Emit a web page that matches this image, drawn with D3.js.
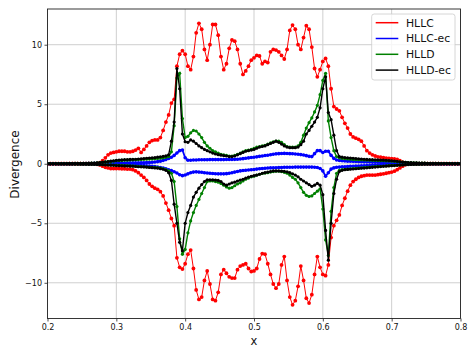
<!DOCTYPE html>
<html>
<head>
<meta charset="utf-8">
<script src="https://cdn.jsdelivr.net/npm/d3@7"></script>
<style>
  html, body { margin: 0; padding: 0; background: #fff; }
  svg { display: block; font-family: "DejaVu Sans", sans-serif; }
</style>
</head>
<body>
<svg id="chart" width="476" height="357"></svg>
<script>
// sample grid: x = X_START + i * X_STEP, i = 0..150 (0.2 .. 0.8)
const X_START = 0.2;
const X_STEP = 0.004;

const xTicks = [0.2, 0.3, 0.4, 0.5, 0.6, 0.7, 0.8];
const yTicks = [-10, -5, 0, 5, 10];
const seriesNames = ['HLLC', 'HLLC-ec', 'HLLD', 'HLLD-ec'];

// each row = 0.1 in x (25 samples)
const hllcUp = [
  0, 0, 0, 0, 0, 0, 0, 0, 0, 0, 0, 0, 0, 0, 0, 0, 0, 0, 0.02, 0.1, 0.25, 0.5, 0.75, 0.9, 0.95,
  1.0, 1.05, 1.05, 1.05, 1.0, 1.0, 1.05, 1.15, 1.3, 0.95, 1.2, 1.5, 1.8, 1.95, 2.0, 2.0, 2.2, 2.8, 3.5, 4.1, 5.1, 5.4, 8.2, 9.2, 9.5,
  9.2, 8.2, 7.9, 9.0, 11.0, 11.8, 11.3, 9.6, 8.7, 10.0, 11.7, 11.7, 10.8, 9.0, 7.9, 8.4, 9.7, 10.4, 10.3, 9.6, 8.4, 7.5, 7.8, 8.2, 8.7,
  8.9, 9.1, 9.05, 8.4, 8.6, 8.5, 9.4, 9.6, 9.55, 9.4, 9.1, 8.8, 9.6, 11.2, 11.65, 11.3, 10.0, 9.6, 10.6, 11.6, 11.3, 9.8, 8.0, 7.3, 7.9,
  8.6, 8.85, 8.2, 6.3, 4.8, 4.6, 4.45, 3.9, 3.4, 3.0, 2.5, 2.25, 2.15, 2.05, 1.9, 1.5, 1.1, 0.9, 0.75, 0.65, 0.58, 0.55, 0.52, 0.48, 0.45,
  0.42, 0.4, 0.36, 0.25, 0.14, 0.05, 0, 0, 0, 0, 0, 0, 0, 0, 0, 0, 0, 0, 0, 0, 0, 0, 0, 0, 0,
  0
];
const hllcLo = [
  0, 0, 0, 0, 0, 0, 0, 0, 0, 0, 0, 0, 0, 0, 0, 0, 0, 0, -0.05, -0.1, -0.2, -0.3, -0.35, -0.4, -0.4,
  -0.4, -0.4, -0.42, -0.42, -0.45, -0.45, -0.5, -0.6, -0.75, -0.95, -1.15, -1.4, -1.7, -1.9, -2.05, -2.15, -2.35, -2.7, -3.3, -3.9, -4.6, -5.2, -7.9, -8.7, -8.85,
  -8.4, -7.6, -7.25, -8.8, -10.6, -11.4, -11.2, -9.8, -9.0, -10.1, -11.4, -11.5, -10.8, -9.3, -8.9, -9.2, -9.5, -9.6, -9.6, -8.9, -8.6, -8.5, -8.4, -8.8, -9.05,
  -9.0, -8.8, -8.0, -7.55, -7.6, -8.4, -9.3, -10.1, -10.45, -10.1, -8.5, -7.8, -9.8, -11.2, -11.85, -11.5, -10.3, -8.6, -9.8, -11.3, -11.7, -11.0, -9.3, -7.8, -8.7,
  -9.3, -9.4, -8.5, -6.2, -5.2, -4.75, -4.3, -3.5, -2.9, -2.3, -1.8, -1.5, -1.3, -1.15, -1.05, -1.0, -0.95, -0.95, -0.95, -0.95, -0.92, -0.88, -0.85, -0.8, -0.75,
  -0.7, -0.62, -0.5, -0.35, -0.2, -0.08, 0, 0, 0, 0, 0, 0, 0, 0, 0, 0, 0, 0, 0, 0, 0, 0, 0, 0, 0,
  0
];
const hllcEcUp = [
  0, 0, 0, 0, 0, 0, 0, 0, 0, 0, 0, 0, 0, 0.01, 0.01, 0.02, 0.02, 0.03, 0.03, 0.04, 0.04, 0.05, 0.05, 0.05, 0.05,
  0.05, 0.06, 0.06, 0.06, 0.07, 0.07, 0.07, 0.08, 0.08, 0.09, 0.09, 0.1, 0.1, 0.12, 0.15, 0.18, 0.22, 0.28, 0.35, 0.45, 0.55, 0.7, 0.9, 1.1, 1.15,
  0.5, 0.3, 0.3, 0.31, 0.32, 0.33, 0.33, 0.34, 0.34, 0.35, 0.35, 0.35, 0.35, 0.35, 0.35, 0.36, 0.36, 0.36, 0.37, 0.38, 0.4, 0.43, 0.46, 0.49, 0.52,
  0.55, 0.58, 0.62, 0.65, 0.69, 0.72, 0.76, 0.8, 0.83, 0.85, 0.86, 0.87, 0.86, 0.85, 0.84, 0.82, 0.8, 0.77, 0.73, 0.68, 0.62, 0.6, 0.85, 1.1, 1.1,
  0.95, 1.05, 1.05, 0.7, 0.45, 0.32, 0.28, 0.25, 0.23, 0.22, 0.21, 0.2, 0.19, 0.18, 0.17, 0.16, 0.16, 0.15, 0.14, 0.13, 0.12, 0.11, 0.1, 0.09, 0.08,
  0.08, 0.07, 0.06, 0.05, 0.04, 0.04, 0.03, 0.02, 0.02, 0.01, 0.01, 0, 0, 0, 0, 0, 0, 0, 0, 0, 0, 0, 0, 0, 0,
  0
];
const hllcEcLo = [
  0, 0, 0, 0, 0, 0, 0, 0, 0, 0, 0, 0, 0, -0.01, -0.01, -0.02, -0.02, -0.03, -0.03, -0.04, -0.04, -0.05, -0.05, -0.05, -0.05,
  -0.06, -0.07, -0.08, -0.09, -0.1, -0.11, -0.12, -0.13, -0.14, -0.15, -0.16, -0.18, -0.2, -0.22, -0.24, -0.27, -0.31, -0.36, -0.42, -0.5, -0.58, -0.67, -0.78, -0.92, -1.0,
  -0.95, -0.85, -0.75, -0.7, -0.68, -0.7, -0.72, -0.75, -0.78, -0.8, -0.82, -0.84, -0.85, -0.85, -0.85, -0.83, -0.8, -0.75, -0.7, -0.65, -0.6, -0.57, -0.55, -0.52, -0.5,
  -0.48, -0.45, -0.42, -0.4, -0.38, -0.36, -0.35, -0.34, -0.33, -0.32, -0.31, -0.3, -0.3, -0.29, -0.29, -0.28, -0.28, -0.28, -0.28, -0.28, -0.28, -0.28, -0.29, -0.31, -0.4,
  -0.6, -1.05, -0.75, -0.45, -0.35, -0.3, -0.28, -0.26, -0.25, -0.24, -0.22, -0.21, -0.2, -0.19, -0.18, -0.17, -0.16, -0.15, -0.14, -0.13, -0.12, -0.11, -0.1, -0.09, -0.08,
  -0.07, -0.07, -0.06, -0.05, -0.04, -0.04, -0.03, -0.02, -0.02, -0.01, -0.01, 0, 0, 0, 0, 0, 0, 0, 0, 0, 0, 0, 0, 0, 0,
  0
];
const hlldUp = [
  0.01, 0.01, 0.01, 0.01, 0.01, 0.02, 0.02, 0.02, 0.02, 0.02, 0.03, 0.03, 0.03, 0.03, 0.04, 0.04, 0.05, 0.05, 0.07, 0.1, 0.12, 0.15, 0.18, 0.2, 0.22,
  0.25, 0.27, 0.28, 0.3, 0.3, 0.32, 0.33, 0.34, 0.35, 0.36, 0.37, 0.38, 0.39, 0.4, 0.42, 0.44, 0.46, 0.5, 0.55, 0.6, 1.0, 3.2, 7.2, 7.6, 3.8,
  2.2, 2.3, 2.6, 2.8, 2.75, 2.5, 2.2, 1.8, 1.5, 1.3, 1.1, 1.0, 0.9, 0.8, 0.75, 0.7, 0.65, 0.65, 0.7, 0.8, 0.9, 1.0, 1.1, 1.15, 1.2,
  1.3, 1.4, 1.45, 1.5, 1.55, 1.65, 1.75, 1.85, 1.9, 1.9, 1.8, 1.6, 1.45, 1.4, 1.4, 1.4, 1.5, 1.8, 2.4, 3.0, 3.45, 3.85, 4.35, 4.9, 5.8,
  7.0, 7.6, 3.6, 2.2, 1.1, 0.6, 0.5, 0.45, 0.42, 0.4, 0.38, 0.36, 0.35, 0.34, 0.33, 0.32, 0.31, 0.3, 0.29, 0.28, 0.27, 0.26, 0.25, 0.24, 0.23,
  0.22, 0.2, 0.18, 0.16, 0.14, 0.12, 0.1, 0.09, 0.08, 0.07, 0.06, 0.05, 0.05, 0.04, 0.04, 0.03, 0.03, 0.03, 0.02, 0.02, 0.02, 0.02, 0.01, 0.01, 0.01,
  0.01
];
const hlldLo = [
  -0.01, -0.01, -0.01, -0.01, -0.01, -0.02, -0.02, -0.02, -0.02, -0.02, -0.03, -0.03, -0.03, -0.03, -0.03, -0.04, -0.04, -0.04, -0.05, -0.06, -0.07, -0.08, -0.09, -0.1, -0.11,
  -0.12, -0.13, -0.14, -0.15, -0.16, -0.17, -0.18, -0.2, -0.21, -0.23, -0.25, -0.26, -0.28, -0.3, -0.31, -0.32, -0.36, -0.42, -0.5, -0.6, -0.8, -1.5, -3.6, -6.3, -7.6,
  -7.2, -5.8, -4.8, -4.1, -3.5, -3.0, -2.5, -2.0, -1.5, -1.45, -1.45, -1.5, -1.55, -1.65, -1.8, -1.95, -2.05, -2.0, -1.85, -1.7, -1.6, -1.45, -1.3, -1.2, -1.1,
  -1.05, -0.95, -0.88, -0.82, -0.78, -0.75, -0.7, -0.66, -0.63, -0.63, -0.66, -0.72, -0.8, -0.95, -1.15, -1.3, -1.6, -2.0, -2.4, -2.65, -2.75, -2.7, -2.5, -2.3, -2.1,
  -3.8, -6.4, -7.7, -4.0, -2.0, -0.8, -0.55, -0.5, -0.47, -0.45, -0.42, -0.4, -0.38, -0.36, -0.34, -0.32, -0.3, -0.28, -0.26, -0.24, -0.22, -0.21, -0.19, -0.17, -0.15,
  -0.14, -0.13, -0.12, -0.1, -0.09, -0.07, -0.06, -0.05, -0.05, -0.04, -0.04, -0.03, -0.03, -0.03, -0.02, -0.02, -0.02, -0.02, -0.01, -0.01, -0.01, -0.01, -0.01, -0.01, -0.01,
  -0.01
];
const hlldEcUp = [
  0.01, 0.01, 0.01, 0.01, 0.02, 0.02, 0.02, 0.02, 0.03, 0.03, 0.03, 0.03, 0.04, 0.04, 0.04, 0.05, 0.05, 0.06, 0.08, 0.1, 0.13, 0.16, 0.19, 0.22, 0.25,
  0.28, 0.3, 0.32, 0.34, 0.35, 0.36, 0.37, 0.38, 0.4, 0.42, 0.44, 0.46, 0.48, 0.5, 0.52, 0.55, 0.58, 0.62, 0.66, 0.75, 1.9, 3.5, 8.0, 6.3, 2.5,
  1.85, 1.8, 2.0, 1.9, 1.7, 1.5, 1.35, 1.2, 1.1, 1.0, 0.9, 0.82, 0.76, 0.72, 0.68, 0.65, 0.6, 0.6, 0.65, 0.75, 0.85, 0.95, 1.05, 1.1, 1.15,
  1.2, 1.3, 1.4, 1.45, 1.5, 1.6, 1.7, 1.8, 1.9, 1.8, 1.65, 1.5, 1.4, 1.35, 1.35, 1.35, 1.4, 1.6, 1.9, 2.5, 2.8, 3.15, 3.5, 3.9, 4.7,
  6.3, 7.3, 4.3, 3.7, 2.4, 1.1, 0.6, 0.55, 0.52, 0.5, 0.48, 0.46, 0.44, 0.42, 0.4, 0.38, 0.36, 0.35, 0.34, 0.33, 0.32, 0.31, 0.3, 0.29, 0.27,
  0.25, 0.23, 0.2, 0.17, 0.14, 0.12, 0.1, 0.09, 0.08, 0.07, 0.06, 0.05, 0.05, 0.04, 0.04, 0.03, 0.03, 0.03, 0.02, 0.02, 0.02, 0.02, 0.01, 0.01, 0.01,
  0.01
];
const hlldEcLo = [
  -0.01, -0.01, -0.01, -0.01, -0.02, -0.02, -0.02, -0.02, -0.03, -0.03, -0.03, -0.03, -0.04, -0.04, -0.04, -0.05, -0.05, -0.05, -0.06, -0.07, -0.08, -0.09, -0.1, -0.12, -0.13,
  -0.15, -0.16, -0.17, -0.18, -0.19, -0.2, -0.21, -0.23, -0.25, -0.26, -0.27, -0.29, -0.31, -0.33, -0.35, -0.37, -0.41, -0.46, -0.55, -0.75, -1.4, -3.4, -5.0, -6.6, -7.3,
  -5.0, -4.1, -3.5, -2.8, -2.4, -2.05, -1.75, -1.5, -1.35, -1.35, -1.35, -1.37, -1.4, -1.5, -1.7, -1.8, -1.7, -1.6, -1.55, -1.45, -1.37, -1.3, -1.2, -1.12, -1.05,
  -1.0, -0.95, -0.88, -0.8, -0.75, -0.7, -0.65, -0.6, -0.6, -0.6, -0.62, -0.64, -0.68, -0.75, -0.85, -0.95, -1.1, -1.3, -1.45, -1.6, -1.75, -1.9, -1.8, -1.65, -1.8,
  -2.6, -5.6, -8.1, -5.0, -2.5, -1.3, -0.65, -0.55, -0.5, -0.48, -0.46, -0.44, -0.42, -0.4, -0.38, -0.36, -0.34, -0.32, -0.3, -0.28, -0.26, -0.24, -0.22, -0.2, -0.18,
  -0.16, -0.15, -0.13, -0.11, -0.1, -0.08, -0.07, -0.06, -0.05, -0.05, -0.04, -0.04, -0.03, -0.03, -0.03, -0.02, -0.02, -0.02, -0.02, -0.01, -0.01, -0.01, -0.01, -0.01, -0.01,
  -0.01
];

const series = [
  { name: seriesNames[0], color: '#ff0000', up: hllcUp, lo: hllcLo, lw: 1, r: 1.9 },
  { name: seriesNames[1], color: '#0000ff', up: hllcEcUp, lo: hllcEcLo, lw: 1.8, r: 1.8 },
  { name: seriesNames[2], color: '#008000', up: hlldUp, lo: hlldLo, lw: 1.4, r: 1.6 },
  { name: seriesNames[3], color: '#000000', up: hlldEcUp, lo: hlldEcLo, lw: 1.4, r: 1.6 },
];

const margin = { left: 47.5, top: 9, right: 460.5, bottom: 318.5 };
const svg = d3.select('#chart');

const x = d3.scaleLinear().domain([0.2, 0.8]).range([margin.left, margin.right]);
const y = d3.scaleLinear().domain([-13, 13]).range([margin.bottom, margin.top]);

svg.append('defs').append('clipPath').attr('id', 'plotClip')
  .append('rect')
  .attr('x', margin.left).attr('y', margin.top)
  .attr('width', margin.right - margin.left)
  .attr('height', margin.bottom - margin.top);

// grid
const grid = svg.append('g').attr('stroke', '#cfcfcf').attr('stroke-width', 1);
xTicks.forEach(t => {
  grid.append('line').attr('x1', x(t)).attr('x2', x(t))
    .attr('y1', margin.top).attr('y2', margin.bottom);
});
yTicks.forEach(t => {
  grid.append('line').attr('x1', margin.left).attr('x2', margin.right)
    .attr('y1', y(t)).attr('y2', y(t));
});

// data
const plot = svg.append('g').attr('clip-path', 'url(#plotClip)');
const xAt = i => X_START + i * X_STEP;
const line = d3.line().x((d, i) => x(xAt(i))).y(d => y(d));

series.forEach(s => {
  const g = plot.append('g');
  [s.up, s.lo].forEach(vals => {
    g.append('path')
      .attr('d', line(vals))
      .attr('fill', 'none')
      .attr('stroke', s.color)
      .attr('stroke-width', s.lw);
    g.selectAll(null).data(vals).enter()
      .append('circle')
      .attr('cx', (d, i) => x(xAt(i)))
      .attr('cy', d => y(d))
      .attr('r', s.r)
      .attr('fill', s.color);
  });
});

// spines
svg.append('rect')
  .attr('x', margin.left).attr('y', margin.top)
  .attr('width', margin.right - margin.left)
  .attr('height', margin.bottom - margin.top)
  .attr('fill', 'none').attr('stroke', '#222').attr('stroke-width', 0.9);

// axes
const xAxis = d3.axisBottom(x).tickValues(xTicks).tickFormat(d3.format('.1f'))
  .tickSize(3).tickPadding(3);
const yAxis = d3.axisLeft(y).tickValues(yTicks).tickFormat(d3.format('d'))
  .tickSize(3).tickPadding(2.5);

const gx = svg.append('g').attr('transform', `translate(0,${margin.bottom})`).call(xAxis);
const gy = svg.append('g').attr('transform', `translate(${margin.left},0)`).call(yAxis);
[gx, gy].forEach(g => {
  g.select('.domain').remove();
  g.selectAll('line').attr('stroke', '#222').attr('stroke-width', 0.8);
  g.selectAll('text').attr('fill', '#111').style('font-size', '8px')
    .style('font-family', '"DejaVu Sans", sans-serif');
});

// axis labels
svg.append('text')
  .attr('x', (margin.left + margin.right) / 2).attr('y', 345)
  .attr('text-anchor', 'middle').style('font-size', '11.5px').attr('fill', '#111')
  .text('x');
svg.append('text')
  .attr('transform', 'translate(18.8,164.5) rotate(-90)')
  .attr('text-anchor', 'middle').style('font-size', '12px').attr('fill', '#111')
  .text('Divergence');

// legend
const legend = svg.append('g');
legend.append('rect')
  .attr('x', 371.7).attr('y', 14).attr('width', 83.3).attr('height', 66)
  .attr('rx', 2.5)
  .attr('fill', '#fff').attr('fill-opacity', 0.8)
  .attr('stroke', '#cccccc').attr('stroke-width', 0.8);
series.forEach((s, i) => {
  const cy = 22.7 + i * 15.8;
  legend.append('line')
    .attr('x1', 375.7).attr('x2', 398.3).attr('y1', cy).attr('y2', cy)
    .attr('stroke', s.color).attr('stroke-width', 1.5);
  legend.append('text')
    .attr('x', 406).attr('y', cy + 3.9)
    .style('font-size', '10.8px').attr('fill', '#111')
    .text(s.name);
});
</script>
</body>
</html>
